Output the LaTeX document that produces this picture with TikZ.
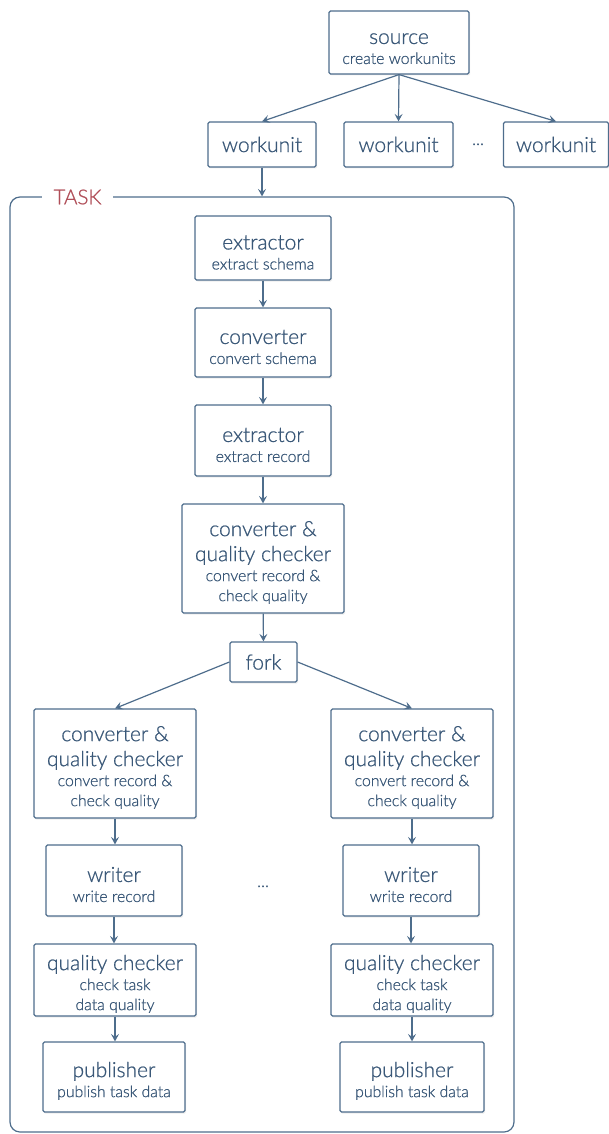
\documentclass[tikz,border=0pt]{standalone}
\usepackage{fontspec}
\setmainfont{Lato}[UprightFont={* Light}, UprightFeatures={FakeBold=0.8}]
\usetikzlibrary{arrows.meta,shadows}
\definecolor{boxc}{HTML}{4E6D8C}
\definecolor{txtc}{HTML}{3A5878}
\definecolor{taskc}{HTML}{B04E58}
\newcommand\bigtxt{\fontsize{21}{25}\selectfont}
\newcommand\smalltxt{\fontsize{15.8}{20}\selectfont}
\newcommand\topst{\rule{0pt}{23pt}}
\begin{document}
\begin{tikzpicture}[x=1pt,y=-1pt,
  box/.style={draw=boxc, line width=1.2pt, rounded corners=1.5pt, fill=white,
    text=txtc, align=center, inner sep=0pt, font=\smalltxt,
    drop shadow={shadow xshift=1pt,shadow yshift=-1.5pt,opacity=0.15}},
  sz/.style 2 args={minimum width=#1, minimum height=#2},
  arr/.style={draw=boxc, line width=1.2pt, -{Stealth[length=7.5pt,width=8pt,inset=3pt]}},
  dotsn/.style={text=txtc, anchor=base, font=\fontsize{17}{18}\selectfont}]
\useasboundingbox (0,0) rectangle (609,1134);

% frame
\node[draw=boxc, line width=1.2pt, rounded corners=10pt, sz={504pt}{935pt}, inner sep=0pt] (frame) at (262,664.5) {};
\node[fill=white, text=taskc, font=\fontsize{20.5}{22}\selectfont, inner xsep=12pt, inner ysep=2pt] (task) at (77.5,197) {TASK};

% top
\node[box, sz={140pt}{63pt}] (src) at (399,42.5) {\topst\bigtxt source\\\smalltxt create workunits};
\node[box, sz={108pt}{45pt}] (wu1) at (262,144.5) {\bigtxt workunit};
\node[box, sz={109pt}{45pt}] (wu2) at (398.5,144.5) {\bigtxt workunit};
\node[box, sz={105pt}{45pt}] (wu3) at (556,144.5) {\bigtxt workunit};
\node[dotsn] (d1) at (478,145) {...};

\draw[arr] (src.south) -- (wu1.north);
\draw[arr] (src.south) -- (wu2.north);
\draw[arr] (src.south) -- (wu3.north);
\draw[arr] (wu1.south) -- (wu1.south |- frame.north);

% main chain
\node[box, sz={136pt}{64pt}] (ex1) at (263,248) {\topst\bigtxt extractor\\\smalltxt extract schema};
\node[box, sz={136pt}{69pt}] (cv1) at (263,342.5) {\topst\bigtxt converter\\\smalltxt convert schema};
\node[box, sz={136pt}{71pt}] (ex2) at (263,440.5) {\topst\bigtxt extractor\\\smalltxt extract record};
\node[box, sz={162pt}{109pt}] (cq) at (263,558.5) {\topst\bigtxt converter \&\\[5pt]\bigtxt quality checker\\\smalltxt convert record \&\\\smalltxt check quality};
\node[box, sz={67pt}{40pt}] (fork) at (263.5,662) {\bigtxt fork};

\draw[arr] (ex1) -- (cv1);
\draw[arr] (cv1) -- (ex2);
\draw[arr] (ex2) -- (cq);
\draw[arr] (cq) -- (fork);

% left branch
\node[box, sz={162pt}{109pt}] (lcq) at (115,763.5) {\topst\bigtxt converter \&\\[5pt]\bigtxt quality checker\\\smalltxt convert record \&\\\smalltxt check quality};
\node[box, sz={136pt}{71pt}] (lwr) at (114,880.5) {\topst\bigtxt writer\\\smalltxt write record};
\node[box, sz={162pt}{72pt}] (lqc) at (115,980) {\topst\bigtxt quality checker\\\smalltxt check task\\\smalltxt data quality};
\node[box, sz={142pt}{70pt}] (lpb) at (114,1077) {\topst\bigtxt publisher\\\smalltxt publish task data};

% right branch
\node[box, sz={162pt}{109pt}] (rcq) at (412,763.5) {\topst\bigtxt converter \&\\[5pt]\bigtxt quality checker\\\smalltxt convert record \&\\\smalltxt check quality};
\node[box, sz={136pt}{71pt}] (rwr) at (411,880.5) {\topst\bigtxt writer\\\smalltxt write record};
\node[box, sz={162pt}{72pt}] (rqc) at (412,980) {\topst\bigtxt quality checker\\\smalltxt check task\\\smalltxt data quality};
\node[box, sz={144pt}{70pt}] (rpb) at (412,1077) {\topst\bigtxt publisher\\\smalltxt publish task data};

\node[dotsn] (d2) at (263,887) {...};

\draw[arr] (fork.west) -- (lcq.north);
\draw[arr] (fork.east) -- (rcq.north);
\draw[arr] (lcq.south) -- (lcq.south |- lwr.north);
\draw[arr] (lwr.south) -- (lwr.south |- lqc.north);
\draw[arr] (lqc.south) -- (lqc.south |- lpb.north);
\draw[arr] (rcq.south) -- (rcq.south |- rwr.north);
\draw[arr] (rwr.south) -- (rwr.south |- rqc.north);
\draw[arr] (rqc.south) -- (rqc.south |- rpb.north);
\end{tikzpicture}
\end{document}
